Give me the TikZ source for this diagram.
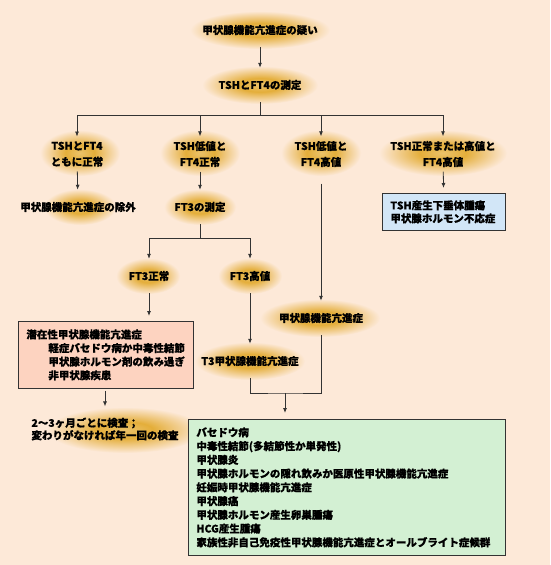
\documentclass[tikz,border=0pt]{standalone}
\usepackage{fontspec}
\setmainfont{Noto Sans CJK JP}[BoldFeatures={FakeBold=0.6}]
\usetikzlibrary{arrows.meta,backgrounds}
\definecolor{bgc}{HTML}{FDE9D8}
\definecolor{glowc}{HTML}{E4AE3A}
\definecolor{bluebox}{HTML}{D2E6F7}
\definecolor{pinkbox}{HTML}{FDD3C0}
\definecolor{greenbox}{HTML}{D3F0D3}
\pgfdeclareradialshading{glowshade}{\pgfpoint{0bp}{0bp}}{color(0bp)=(glowc!75!white); color(9bp)=(glowc); color(17bp)=(glowc!50!bgc); color(25bp)=(bgc); color(50bp)=(bgc)}
\newcommand{\glowfx}[3]{\shade[shading=glowshade] (#1) ellipse (#2pt and #3pt);}
\begin{document}
\begin{tikzpicture}[x=1pt,y=-1pt,
        every node/.style={font=\fontsize{10.5}{13.75}\selectfont\bfseries},
        hi/.style={inner xsep=3pt,inner ysep=12pt,align=center},
        hitwo/.style={hi,inner ysep=4.5pt,font=\fontsize{10.5}{16}\selectfont\bfseries},
        box/.style={draw=black!80,line width=0.8pt,align=left,inner xsep=8pt,anchor=north west},
        line/.style={black!80,line width=0.8pt},
        arr/.style={line,-{Latex[length=5pt,width=4pt]}}]
        \useasboundingbox (0,0) rectangle (550,565);
        % first steps
        \node[hi] (susp) at (260,30) {甲状腺機能亢進症の疑い};
        \node[hi] (meas) at (260,85) {TSHとFT4の測定};
        \coordinate (br) at (260,115);
        \node[hitwo] (n1) at (77,154) {TSHとFT4\\ともに正常};
        \node[hitwo] (n2) at (200,154) {TSH低値と\\FT4正常};
        \node[hitwo] (n3) at (321,154) {TSH低値と\\FT4高値};
        \node[hitwo] (n4) at (443,154) {TSH正常または高値と\\FT4高値};
        \node[hi] (excl) at (78,207) {甲状腺機能亢進症の除外};
        \node[hi] (ft3m) at (200,207) {FT3の測定};
        \node[box,fill=bluebox,text width=107pt,minimum height=37pt,
                font=\fontsize{10.5}{13}\selectfont\bfseries] (pitu) at (382,193)
                {TSH産生下垂体腫瘍\\甲状腺ホルモン不応症};
        % FT3 branch
        \coordinate (br3) at (200,238);
        \node[hi] (ft3n) at (149,276) {FT3正常};
        \node[hi] (ft3h) at (250,276) {FT3高値};
        \node[hi] (hyper) at (321,318) {甲状腺機能亢進症};
        \node[hi] (t3) at (250,361) {T3甲状腺機能亢進症};
        \node[box,fill=pinkbox,text width=159pt,minimum height=67pt,
                font=\fontsize{10.5}{13.6}\selectfont\bfseries] (subc) at (18,321)
                {潜在性甲状腺機能亢進症\\
                \hspace*{22pt}軽症バセドウ病か中毒性結節\\
                \hspace*{22pt}甲状腺ホルモン剤の飲み過ぎ\\
                \hspace*{22pt}非甲状腺疾患};
        \node[hi,align=left,inner ysep=11pt,font=\fontsize{10.5}{12.5}\selectfont\bfseries] (check) at (105,429)
                {2〜3ヶ月ごとに検査；\\変わりがなければ年一回の検査};
        \coordinate (mg) at (285,393);
        \node[box,fill=greenbox,text width=301pt,minimum height=136pt] (causes) at (188,419)
                {バセドウ病\\
                中毒性結節(多結節性か単発性)\\
                甲状腺炎\\
                甲状腺ホルモンの隠れ飲みか医原性甲状腺機能亢進症\\
                妊娠時甲状腺機能亢進症\\
                甲状腺癌\\
                甲状腺ホルモン産生卵巣腫瘍\\
                HCG産生腫瘍\\
                家族性非自己免疫性甲状腺機能亢進症とオールブライト症候群};
        % connectors
        \draw[arr] (susp) -- (meas);
        \draw[line] (meas) -- (br);
        \foreach \n in {n1,n2,n3,n4}
                \draw[arr] (br) -| (\n.north);
        \draw[arr] (n1) -- (excl);
        \draw[arr] (n2) -- (ft3m);
        \draw[arr,shorten >=5pt] (n4) -- (pitu);
        \draw[arr,shorten <=12pt] (n3) -- (hyper);
        \draw[line] (ft3m) -- (br3);
        \draw[arr] (br3) -| (ft3n.north);
        \draw[arr] (br3) -| (ft3h.north);
        \draw[arr,shorten >=5pt] (ft3n) -- (ft3n |- subc.north);
        \draw[arr] (ft3h) -- (t3);
        \draw[arr,shorten <=2pt] (subc.south -| check) -- (check);
        \draw[line] (t3.south) |- (mg) -| (hyper.south);
        \draw[arr,shorten >=6pt] (mg) -- (mg |- causes.north);
        % background and glows
        \begin{scope}[on background layer]
                \fill[bgc] (0,0) rectangle (550,565);
                \glowfx{260,30}{70}{19}
                \glowfx{260,85}{58}{19}
                \glowfx{80,153}{40}{23}
                \glowfx{200,153}{40}{23}
                \glowfx{321,153}{40}{23}
                \glowfx{443,153}{64}{23}
                \glowfx{80,207}{36}{18}
                \glowfx{200,207}{36}{18}
                \glowfx{148,276}{32}{18}
                \glowfx{250,276}{32}{18}
                \glowfx{320,318}{60}{19}
                \glowfx{250,361}{55}{19}
                \glowfx{125,430}{78}{23}
        \end{scope}
\end{tikzpicture}
\end{document}
